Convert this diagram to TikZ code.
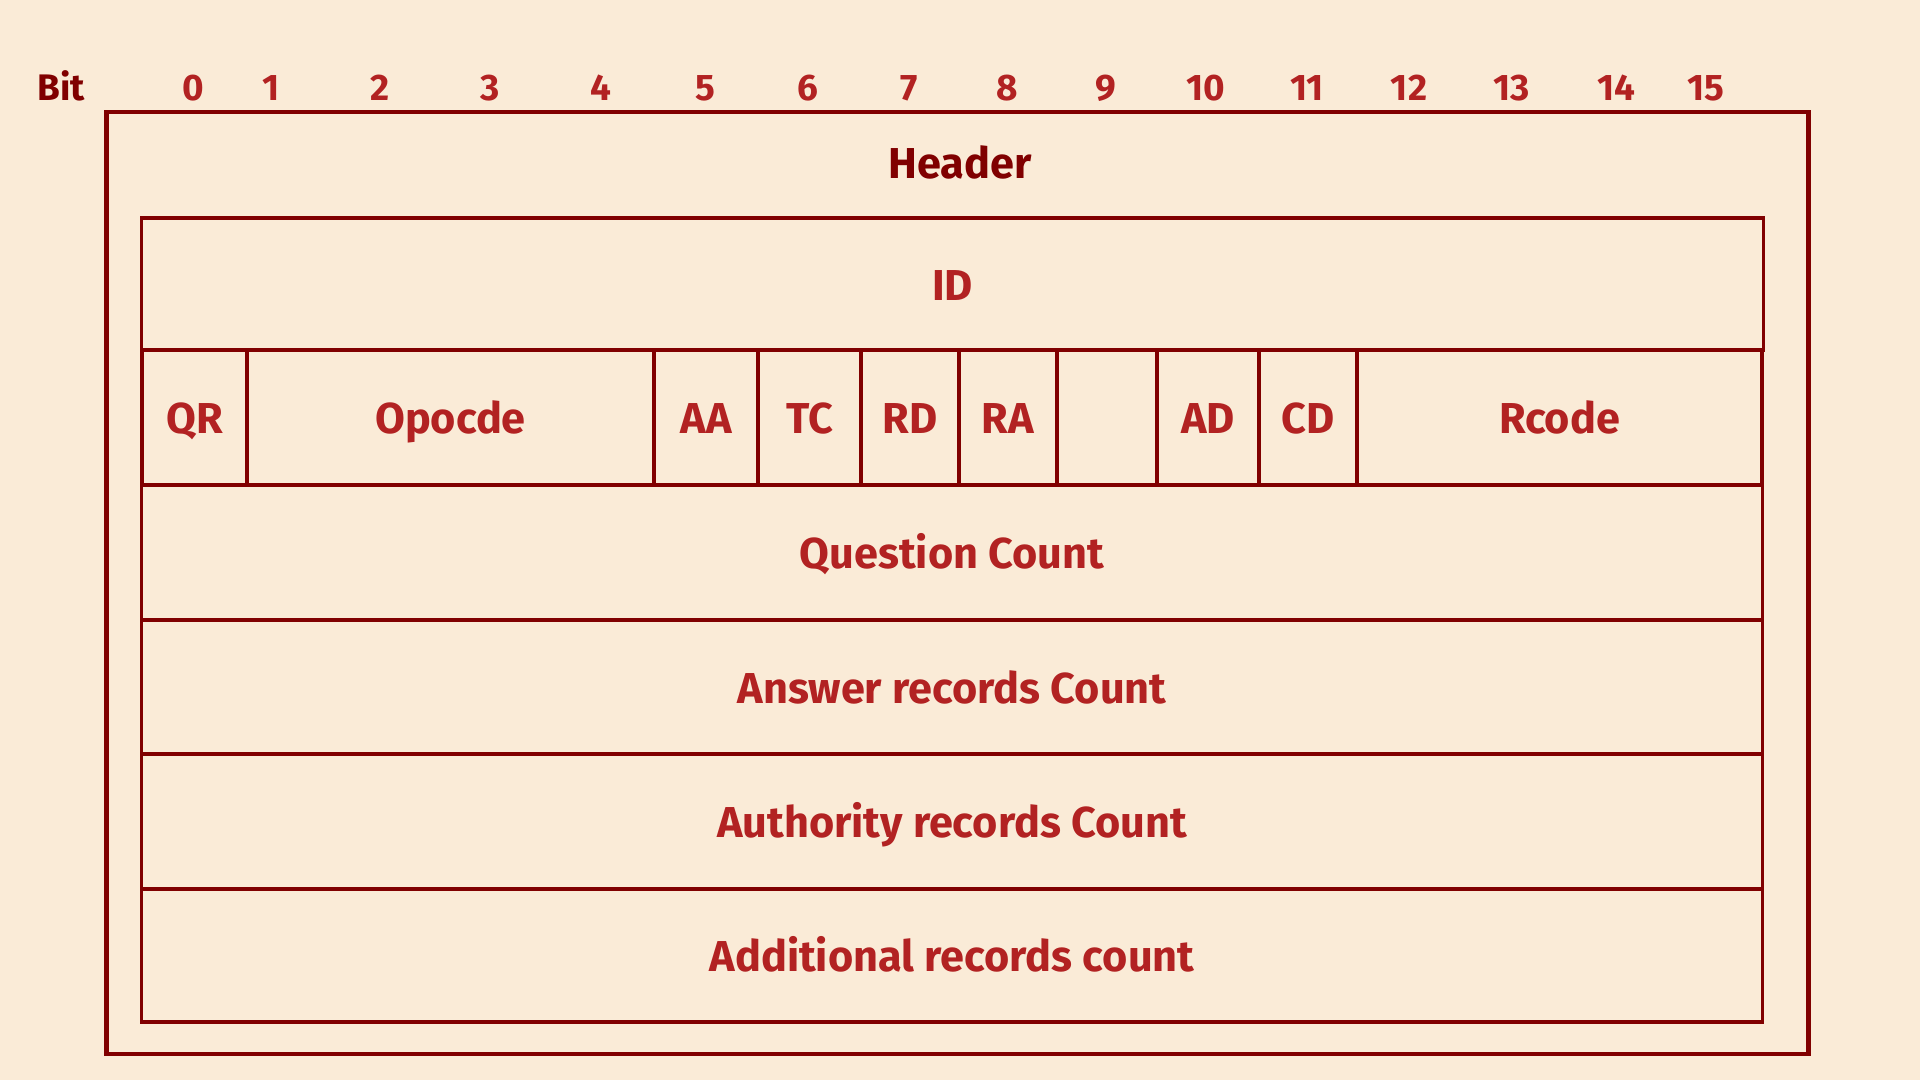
\documentclass[tikz,border=0pt]{standalone}
\usepackage{fontspec}
\setmainfont{Fira Sans}
\usepackage{xcolor}
\definecolor{bgcream}{RGB}{250,235,215}
\definecolor{linered}{RGB}{128,0,0}
\definecolor{textred}{RGB}{178,34,34}

\begin{document}
\begin{tikzpicture}[x=0.01cm,y=-0.01cm,
    every node/.style={inner sep=0,outer sep=0},
    field/.style={draw=linered,line width=1pt,text=textred,text height=0.92em,text depth=0pt,font=\fontsize{12.3}{14}\selectfont\bfseries},
    bitnum/.style={text=textred,text height=0.76em,text depth=0pt,font=\fontsize{10.5}{12}\selectfont\bfseries},
    caption/.style={text=linered,text height=0.88em,text depth=0pt,font=\fontsize{12.3}{14}\selectfont\bfseries}]
    \fill[bgcream] (0,0) rectangle (1920,1080);
    \useasboundingbox (0,0) rectangle (1920,1080);

    \node[draw=linered,line width=1.2pt,minimum width=17.01cm,minimum height=9.42cm](header) at (957.5,583) {};
    \node[caption](title) at (960,163) {Header};

    % bit positions
    \node[caption,text height=0.76em,font=\fontsize{10.5}{12}\selectfont\bfseries](bit) at (61,87) {Bit};
    \foreach \x/\b in {193/0,271/1,380/2,490/3,601/4,705/5,808/6,909/7,1007/8,1106/9,1206/10,1307/11,1409/12,1512/13,1616/14,1706/15}
        \node[bitnum](b\b) at (\x,87) {\b};

    \node[field,minimum width=16.21cm,minimum height=1.32cm](id) at (952.5,284) {ID};

    % flags row
    \foreach \l/\r/\n/\t in {142/247/qr/QR,247/654/opcode/Opocde,654/758/aa/AA,758/861/tc/TC,861/959/rd/RD,959/1057/ra/RA,1057/1157/z/,1157/1259/ad/AD,1259/1357/cd/CD,1357/1762/rcode/Rcode}
        \node[field,minimum width={(\r-\l)*0.01cm},minimum height=1.35cm](\n) at ({(\l+\r)/2},417.5) {\t};

    \node[field,minimum width=16.20cm,minimum height=1.35cm](qdcount) at (952,552.5) {Question Count};
    \node[field,minimum width=16.20cm,minimum height=1.34cm](ancount) at (952,687) {Answer records Count};
    \node[field,minimum width=16.20cm,minimum height=1.35cm](nscount) at (952,821.5) {Authority records Count};
    \node[field,minimum width=16.20cm,minimum height=1.33cm](arcount) at (952,955.5) {Additional records count};
\end{tikzpicture}
\end{document}
